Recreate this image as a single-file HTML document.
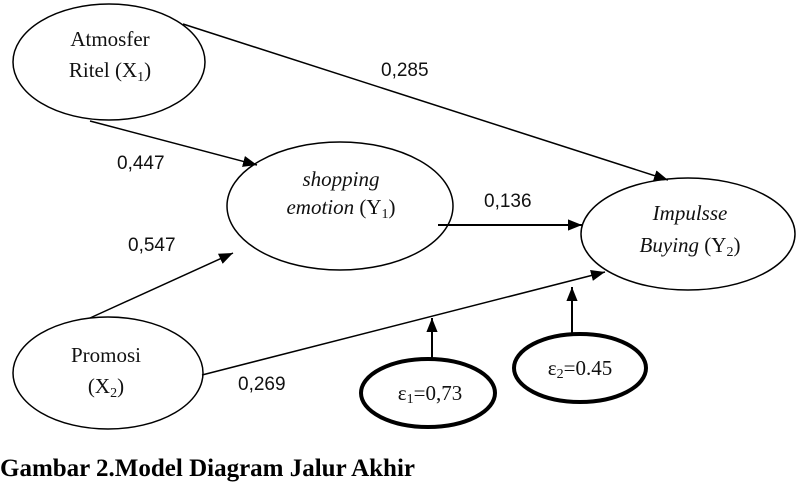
<!DOCTYPE html>
<html><head><meta charset="utf-8"><style>
html,body{margin:0;padding:0;background:#fff;}
svg{display:block;}
.s{font-family:"Liberation Serif",serif;font-size:21px;fill:#111;}
.n{font-family:"Liberation Sans",sans-serif;font-size:19px;fill:#111;}
</style></head><body>
<svg width="796" height="482" viewBox="0 0 796 482" xmlns="http://www.w3.org/2000/svg">
<defs><marker id="b" viewBox="0 0 10 10" refX="10" refY="5" markerWidth="14" markerHeight="14" markerUnits="userSpaceOnUse" orient="auto"><path d="M0,1 L10,5 L0,9 z" fill="#000"/></marker></defs>
<g fill="none" stroke="#000" stroke-width="1.5">
<ellipse cx="109" cy="62" rx="96" ry="58"/>
<ellipse cx="340" cy="206" rx="113" ry="64"/>
<ellipse cx="688" cy="234" rx="107" ry="56"/>
<ellipse cx="108" cy="373" rx="95" ry="56"/>
<line x1="183" y1="24" x2="668" y2="180" marker-end="url(#b)"/>
<line x1="90" y1="121" x2="257" y2="165" marker-end="url(#b)"/>
<line x1="438" y1="225" x2="582" y2="225" stroke-width="2" marker-end="url(#b)"/>
<line x1="90" y1="318" x2="233" y2="253" marker-end="url(#b)"/>
<line x1="202" y1="375" x2="605" y2="272" marker-end="url(#b)"/>
<line x1="432" y1="358" x2="432" y2="318" stroke-width="2" marker-end="url(#b)"/>
<line x1="572" y1="333" x2="572" y2="287" stroke-width="2" marker-end="url(#b)"/>
</g>
<g fill="none" stroke="#000" stroke-width="4">
<ellipse cx="428" cy="393" rx="67" ry="34"/>
<ellipse cx="580" cy="368" rx="66" ry="34"/>
</g>
<text class="s" x="110" y="46" text-anchor="middle">Atmosfer</text>
<text class="s" x="110" y="77" text-anchor="middle">Ritel (X<tspan font-size="14" dy="4">1</tspan><tspan dy="-4">)</tspan></text>
<text class="s" x="341" y="186" text-anchor="middle" font-style="italic">shopping</text>
<text class="s" x="341" y="214" text-anchor="middle"><tspan font-style="italic">emotion</tspan> (Y<tspan font-size="14" dy="4">1</tspan><tspan dy="-4">)</tspan></text>
<text class="s" x="690" y="220" text-anchor="middle" font-style="italic">Impulsse</text>
<text class="s" x="690" y="252" text-anchor="middle"><tspan font-style="italic">Buying</tspan> (Y<tspan font-size="14" dy="4">2</tspan><tspan dy="-4">)</tspan></text>
<text class="s" x="106" y="362" text-anchor="middle">Promosi</text>
<text class="s" x="106" y="393" text-anchor="middle">(X<tspan font-size="14" dy="4">2</tspan><tspan dy="-4">)</tspan></text>
<text class="s" x="430" y="400" text-anchor="middle">ε<tspan font-size="14" dy="3">1</tspan><tspan dy="-3">=0,73</tspan></text>
<text class="s" x="580" y="375" text-anchor="middle">ε<tspan font-size="14" dy="3">2</tspan><tspan dy="-3">=0.45</tspan></text>
<text class="n" x="381" y="76">0,285</text>
<text class="n" x="117" y="169">0,447</text>
<text class="n" x="484" y="207">0,136</text>
<text class="n" x="128" y="251">0,547</text>
<text class="n" x="238" y="390">0,269</text>
<text x="0" y="476" font-family="Liberation Serif,serif" font-weight="bold" font-size="25" textLength="415" lengthAdjust="spacingAndGlyphs" fill="#000">Gambar 2.Model Diagram Jalur Akhir</text>
</svg>
</body></html>
